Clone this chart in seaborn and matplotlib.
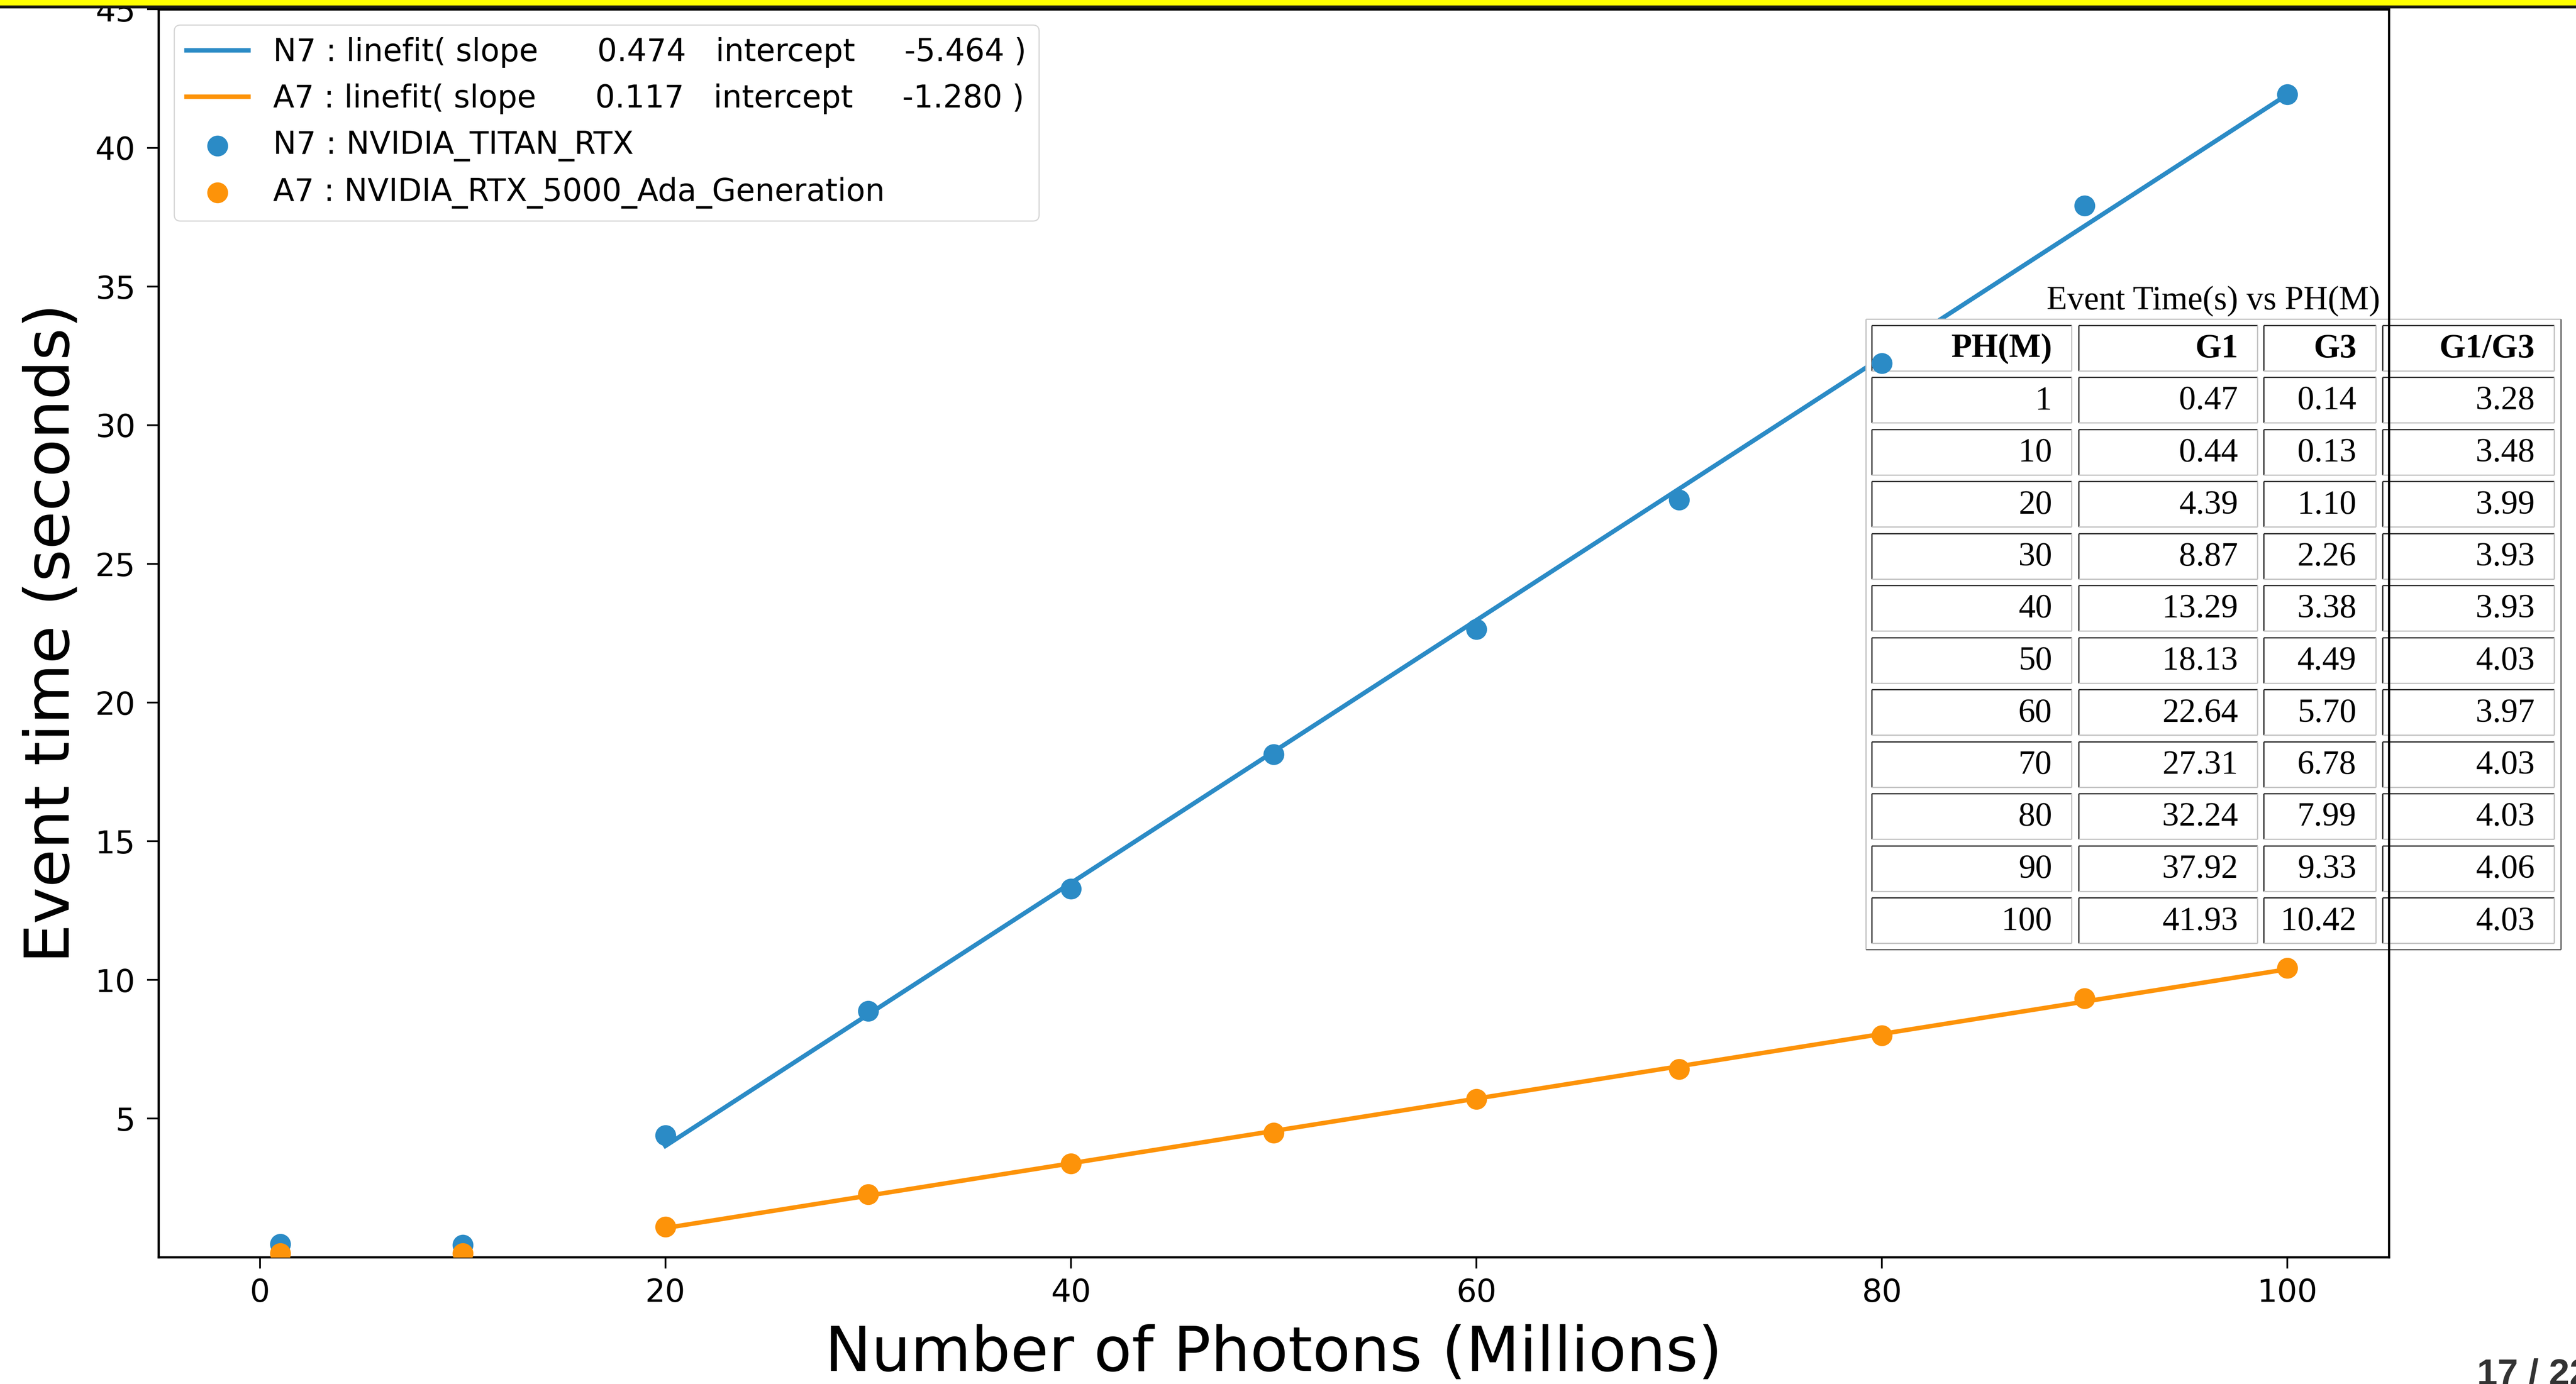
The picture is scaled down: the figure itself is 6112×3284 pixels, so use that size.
import numpy as np
import pandas as pd
import matplotlib
matplotlib.use("Agg")
import matplotlib.pyplot as plt
import matplotlib.transforms as mtransforms
from matplotlib.patches import Rectangle
from matplotlib.lines import Line2D
import seaborn as sns

# ---------------- data ----------------
photons = [1, 10, 20, 30, 40, 50, 60, 70, 80, 90, 100]
n7_times = [0.47, 0.44, 4.39, 8.87, 13.29, 18.13, 22.64, 27.31, 32.24, 37.92, 41.93]
a7_times = [0.14, 0.13, 1.10, 2.26, 3.38, 4.49, 5.70, 6.78, 7.99, 9.33, 10.42]
ratio_g1_g3 = [3.28, 3.48, 3.99, 3.93, 3.93, 4.03, 3.97, 4.03, 4.03, 4.06, 4.03]
fit_start = 20
fit_slopes = [0.474, 0.117]
fit_intercepts = [-5.464, -1.280]
series_names = ["N7", "A7"]
gpu_names = ["NVIDIA_TITAN_RTX", "NVIDIA_RTX_5000_Ada_Generation"]
x_ticks = [0, 20, 40, 60, 80, 100]
y_ticks = [5, 10, 15, 20, 25, 30, 35, 40, 45]
table_title = "Event Time(s) vs PH(M)"
table_header = ["PH(M)", "G1", "G3", "G1/G3"]
page_label = "17 / 22"
x_label = "Number of Photons (Millions)"
y_label = "Event time (seconds)"

# ---------------- figure ----------------
W, H, DPI = 6112, 3284, 200
fig = plt.figure(figsize=(W / DPI, H / DPI), dpi=DPI)
fig.patch.set_facecolor("white")

ax_l, ax_r, ax_t, ax_b = 376, 5668, 22, 2983
ax = fig.add_axes([ax_l / W, 1 - ax_b / H, (ax_r - ax_l) / W, (ax_b - ax_t) / H])

colors = ["#2b8bc6", "#fd9309"]
df = pd.DataFrame({"photons": photons, "N7": n7_times, "A7": a7_times})
fit_df = df[df["photons"] >= fit_start]

for name, col, slope, icpt in zip(series_names, colors, fit_slopes, fit_intercepts):
    sns.regplot(data=fit_df, x="photons", y=name, ax=ax, scatter=False, ci=None,
                truncate=True, color=col,
                line_kws=dict(lw=3.8, zorder=2, solid_capstyle="projecting"),
                label=f"{name} : linefit( slope {slope:10.3f}   intercept {icpt:10.3f} )")

for name, col, gpu in zip(series_names, colors, gpu_names):
    sns.scatterplot(data=df, x="photons", y=name, ax=ax, color=col, s=317,
                    linewidth=0, label=f"{name} : {gpu}", zorder=4)

ax.set_xlim(-5, 105)
ax.set_ylim(0, 45)
ax.set_xticks(x_ticks)
ax.set_yticks(y_ticks)
ax.tick_params(axis="both", labelsize=27, length=9.7, width=1.5, color="black")
ax.tick_params(axis="x", pad=8)
ax.tick_params(axis="y", pad=10)
for sp in ax.spines.values():
    sp.set_linewidth(1.9)
    sp.set_color("black")
ax.spines["right"].set_zorder(6)
ax.set_xlabel(x_label, fontsize=53)
ax.set_ylabel(y_label, fontsize=53)
ax.xaxis.set_label_coords(0.5, -0.0534)
ax.yaxis.set_label_coords(-0.0345, 0.5)

leg = ax.legend(loc="upper left", fontsize=26.5, handlelength=2.0)

# ---------------- table overlay (pixel layout) ----------------
px = mtransforms.Affine2D().scale(1 / W, -1 / H).translate(0, 1) + fig.transFigure
serif = ["Liberation Serif", "DejaVu Serif"]
lw_px = 3 * 72 / DPI
dark, light = "#2e2e2e", "#c4c4c4"

def edge(x0, y0, x1, y1, c):
    ax.add_line(Line2D([x0, x1], [y0, y1], transform=px, color=c, lw=lw_px,
                       zorder=3.2, clip_on=False, solid_capstyle="butt"))

# outer frame
o_l, o_r, o_t, o_b = 4427, 6076, 757, 2253
ax.add_patch(Rectangle((o_l, o_t), o_r - o_l, o_b - o_t, transform=px,
                       facecolor="white", edgecolor="none", zorder=3, clip_on=False))
edge(o_l, o_t, o_r, o_t, light)
edge(o_l, o_t, o_l, o_b, light)
edge(o_l, o_b, o_r, o_b, "#5a5a5a")
edge(o_r, o_t, o_r, o_b, "#5a5a5a")

ax.text((o_l + o_r) / 2, 707, table_title, transform=px, ha="center",
        va="center_baseline", fontsize=28.7, family=serif, zorder=3.5, clip_on=False)

col_edges = [(4441, 4915), (4932, 5356), (5371, 5637), (5653, 6060)]
row_top0, row_pitch, row_h = 772, 123.5, 108
rows = [table_header] + [
    [str(p), f"{g1:.2f}", f"{g3:.2f}", f"{r:.2f}"]
    for p, g1, g3, r in zip(photons, n7_times, a7_times, ratio_g1_g3)
]
for i, row in enumerate(rows):
    top = row_top0 + i * row_pitch
    bot = top + row_h
    for (cl, cr), txt in zip(col_edges, row):
        edge(cl, top, cr, top, dark)
        edge(cl, top, cl, bot, dark)
        edge(cl, bot, cr, bot, light)
        edge(cr, top, cr, bot, light)
        ax.text(cr - 46, (top + bot) / 2 - 6, txt, transform=px, ha="right",
                va="center_baseline", fontsize=28.8, family=serif,
                fontweight="bold" if i == 0 else "normal", zorder=3.5, clip_on=False)

# ---------------- slide decorations ----------------
fig.add_artist(Rectangle((0, 1 - 13 / H), 1, 13 / H, transform=fig.transFigure,
                         facecolor="#ffff00", edgecolor="none", zorder=10))
fig.add_artist(Rectangle((0, 1 - 20 / H), 1, 7 / H, transform=fig.transFigure,
                         facecolor="#151515", edgecolor="none", zorder=10))
fig.text(5877 / W, -2 / H, page_label, ha="left", va="baseline", fontsize=31.6,
         family=["Liberation Sans", "DejaVu Sans"], fontweight="bold", color="#333333")

fig.savefig("out.png", dpi=DPI, facecolor="white")
